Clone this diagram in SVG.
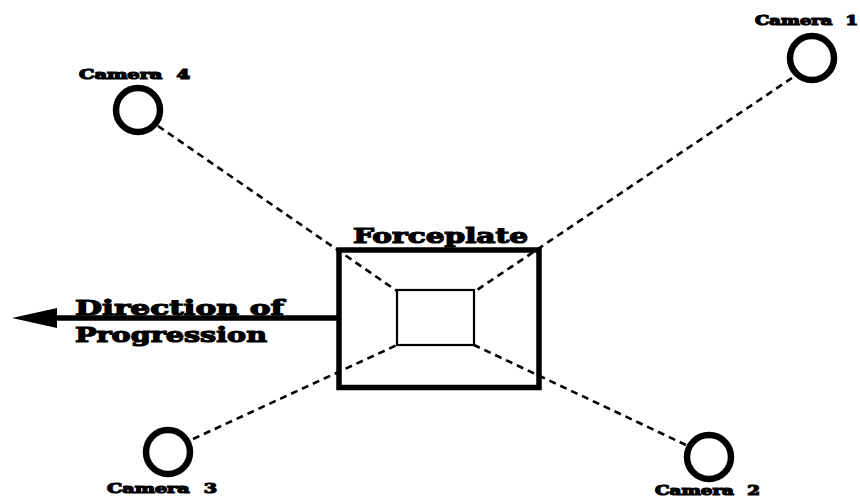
<svg xmlns="http://www.w3.org/2000/svg" width="860" height="498" viewBox="0 0 860 498">
<style>
.cam{fill:none;stroke:#000;stroke-width:6.500}
.lbl{font-family:"DejaVu Serif",serif;font-weight:bold;fill:#000;stroke:#000;stroke-width:1.200}
.cl{font-size:13px;word-spacing:5px}
.bl{font-size:21px}
.d{fill:none;stroke:#000;stroke-width:2.600;stroke-dasharray:7 5}
</style>
<rect width="860" height="498" fill="#fff"/>
<g id="connectors">
<line class="d" x1="792" y1="78" x2="474" y2="292"/>
<line class="d" x1="158" y1="126" x2="397" y2="291"/>
<line class="d" x1="193" y1="439" x2="397" y2="345"/>
<line class="d" x1="686" y1="445" x2="474" y2="345"/>
<line x1="50" y1="318" x2="338" y2="318" stroke="#000" stroke-width="5.500"/>
<polygon points="12,318 57,308 57,328" fill="#000"/>
</g>
<g id="forceplate">
<rect x="339" y="250" width="200" height="137.500" fill="none" stroke="#000" stroke-width="5.500"/>
<rect x="397" y="290" width="77" height="55" fill="none" stroke="#000" stroke-width="2.200"/>
<text class="lbl bl" x="353" y="243" textLength="175" lengthAdjust="spacingAndGlyphs">Forceplate</text>
</g>
<g id="direction">
<text class="lbl bl" x="75" y="315" textLength="209" lengthAdjust="spacingAndGlyphs">Direction of</text>
<text class="lbl bl" x="75" y="342" textLength="192" lengthAdjust="spacingAndGlyphs">Progression</text>
</g>
<g id="camera1"><circle class="cam" cx="812" cy="58" r="22"/><text class="lbl cl" x="755" y="25" textLength="103" lengthAdjust="spacingAndGlyphs">Camera 1</text></g>
<g id="camera2"><circle class="cam" cx="709" cy="457" r="22"/><text class="lbl cl" x="655" y="495" textLength="105" lengthAdjust="spacingAndGlyphs">Camera 2</text></g>
<g id="camera3"><circle class="cam" cx="168" cy="452" r="22"/><text class="lbl cl" x="107" y="493" textLength="110" lengthAdjust="spacingAndGlyphs">Camera 3</text></g>
<g id="camera4"><circle class="cam" cx="138" cy="110" r="22"/><text class="lbl cl" x="79" y="79" textLength="111" lengthAdjust="spacingAndGlyphs">Camera 4</text></g>
</svg>
